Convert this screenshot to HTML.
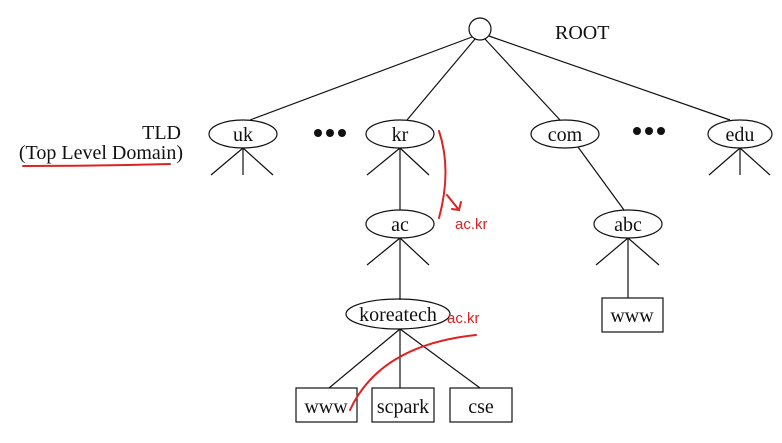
<!DOCTYPE html>
<html><head><style>body{margin:0;background:#fff}</style></head><body>
<svg width="782" height="438" xmlns="http://www.w3.org/2000/svg" font-family="Liberation Serif, serif" font-size="20">
<rect width="782" height="438" fill="#fff"/>
<g stroke="#111" stroke-width="1.2" fill="none">
<circle cx="480" cy="29" r="11"/>
<line x1="472" y1="37" x2="250" y2="120"/>
<line x1="475" y1="39" x2="407" y2="120"/>
<line x1="485" y1="39" x2="560" y2="120"/>
<line x1="489" y1="36" x2="730" y2="120"/>
<ellipse cx="243" cy="134" rx="34" ry="14"/>
<ellipse cx="400" cy="134" rx="34" ry="14"/>
<ellipse cx="565" cy="134" rx="34" ry="14"/>
<ellipse cx="740" cy="134" rx="32" ry="14"/>
<path d="M243 148 L211 175 M243 148 V175 M243 148 L273 175"/>
<path d="M400 148 L367 175 M400 148 L429 175 M400 148 V210"/>
<path d="M740 148 L709 175 M740 148 V175 M740 148 L770 175"/>
<path d="M578 147 L624 210"/>
<ellipse cx="400" cy="224" rx="34" ry="14"/>
<path d="M400 238 L367 265 M400 238 L429 265 M400 238 V300"/>
<ellipse cx="628" cy="224" rx="34" ry="14"/>
<path d="M628 238 L596 265 M628 238 L659 265 M628 238 V298"/>
<rect x="602" y="298" width="61" height="34"/>
<ellipse cx="398" cy="314" rx="52" ry="15"/>
<path d="M400 329 L329 388 M400 329 V388 M400 329 L480 388"/>
<rect x="296" y="388" width="61" height="34"/>
<rect x="372" y="388" width="62" height="34"/>
<rect x="450" y="388" width="62" height="34"/>
</g>
<g fill="#111">
<circle cx="318" cy="133" r="4"/><circle cx="330" cy="133" r="4"/><circle cx="342" cy="133" r="4"/>
<circle cx="637" cy="131" r="4"/><circle cx="649" cy="131" r="4"/><circle cx="661" cy="131" r="4"/>
<text x="555" y="39">ROOT</text>
<text x="181" y="139" text-anchor="end">TLD</text>
<text x="183" y="159" text-anchor="end">(Top Level Domain)</text>
<g text-anchor="middle">
<text x="243" y="141">uk</text><text x="400" y="141">kr</text><text x="565" y="141">com</text><text x="740" y="141">edu</text>
<text x="400" y="231">ac</text><text x="628" y="231">abc</text>
<text x="398" y="321">koreatech</text>
<text x="632" y="322">www</text><text x="326" y="413">www</text><text x="403" y="413">scpark</text><text x="481" y="413">cse</text>
</g>
</g>
<g stroke="#d22" stroke-width="2" fill="none" stroke-linecap="round">
<path d="M23 166 Q100 166 170 164"/>
<path d="M439 131 Q452 170 439 218"/>
<path d="M447 195 L459 210 M452 209 L459 210 L461 202"/>
<path d="M350 410 Q380 345 476 335"/>
</g>
<g fill="#d22" font-family="Liberation Sans, sans-serif" font-size="15">
<text x="455" y="229">ac.kr</text>
<text x="447" y="323">ac.kr</text>
</g>
</svg>
</body></html>
